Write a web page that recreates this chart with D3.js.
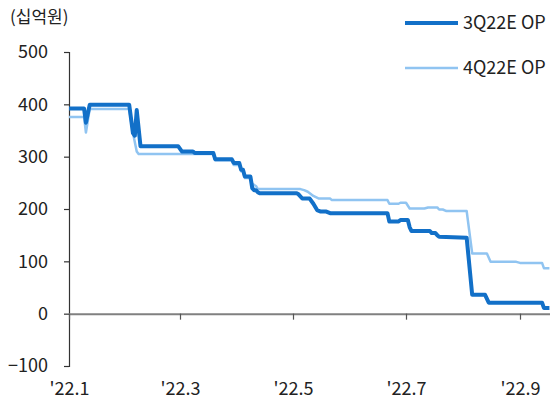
<!DOCTYPE html>
<html>
<head>
<meta charset="utf-8">
<script src="https://cdn.jsdelivr.net/npm/d3@7/dist/d3.min.js"></script>
<style>
  html, body { margin: 0; padding: 0; background: #fff; }
  svg { display: block; }
  text { font-family: "Noto Sans CJK KR", "Noto Sans", sans-serif; fill: #222; }
</style>
</head>
<body>
<svg id="chart" width="550" height="399"></svg>
<script>
// Operating profit consensus (KRW bn) for 3Q22E, daily revisions
const op3Q = [
  ["2022-01-01", 392], ["2022-01-09", 392], ["2022-01-10", 365], ["2022-01-12", 399],
  ["2022-02-02", 399], ["2022-02-04", 345], ["2022-02-05", 340], ["2022-02-06", 389],
  ["2022-02-08", 320], ["2022-02-28", 320], ["2022-03-02", 310], ["2022-03-08", 310],
  ["2022-03-09", 307], ["2022-03-19", 307], ["2022-03-20", 295], ["2022-03-29", 295],
  ["2022-03-30", 288], ["2022-04-02", 288], ["2022-04-03", 275], ["2022-04-04", 275],
  ["2022-04-05", 262], ["2022-04-08", 262], ["2022-04-09", 240], ["2022-04-10", 236],
  ["2022-04-11", 236], ["2022-04-12", 232], ["2022-04-13", 230], ["2022-05-03", 230],
  ["2022-05-04", 228], ["2022-05-06", 220], ["2022-05-10", 220], ["2022-05-12", 210],
  ["2022-05-14", 198], ["2022-05-16", 195], ["2022-05-19", 195], ["2022-05-21", 192],
  ["2022-06-21", 192], ["2022-06-22", 176], ["2022-06-27", 176], ["2022-06-28", 179],
  ["2022-07-02", 179], ["2022-07-03", 165], ["2022-07-04", 158], ["2022-07-14", 158],
  ["2022-07-15", 154], ["2022-07-17", 154], ["2022-07-18", 150], ["2022-07-19", 147],
  ["2022-08-03", 145], ["2022-08-06", 36], ["2022-08-13", 36], ["2022-08-15", 21],
  ["2022-09-13", 21], ["2022-09-14", 11], ["2022-09-17", 11]
];

// Operating profit consensus (KRW bn) for 4Q22E
const op4Q = [
  ["2022-01-01", 376], ["2022-01-09", 376], ["2022-01-10", 346], ["2022-01-12", 391],
  ["2022-02-02", 391], ["2022-02-04", 345], ["2022-02-06", 310], ["2022-02-07", 305],
  ["2022-03-19", 305], ["2022-03-20", 293], ["2022-03-29", 293], ["2022-03-30", 284],
  ["2022-04-02", 284], ["2022-04-03", 272], ["2022-04-04", 272], ["2022-04-05", 259],
  ["2022-04-08", 259], ["2022-04-09", 248], ["2022-04-11", 244], ["2022-04-12", 238],
  ["2022-05-05", 238], ["2022-05-07", 236], ["2022-05-09", 233], ["2022-05-12", 225],
  ["2022-05-15", 220], ["2022-05-21", 220], ["2022-05-22", 217], ["2022-06-21", 217],
  ["2022-06-22", 210], ["2022-06-27", 210], ["2022-06-28", 212], ["2022-07-01", 212],
  ["2022-07-03", 201], ["2022-07-11", 201], ["2022-07-13", 203], ["2022-07-18", 203],
  ["2022-07-19", 199], ["2022-07-21", 199], ["2022-07-23", 196], ["2022-08-03", 196],
  ["2022-08-06", 115], ["2022-08-14", 115], ["2022-08-16", 99], ["2022-08-30", 99],
  ["2022-09-01", 97], ["2022-09-13", 97], ["2022-09-14", 87], ["2022-09-17", 87]
];

const xTickDates = ["2022-01-01", "2022-03-01", "2022-05-01", "2022-07-01", "2022-09-01"];
const xTickLabels = ["'22.1", "'22.3", "'22.5", "'22.7", "'22.9"];
const yTicks = [-100, 0, 100, 200, 300, 400, 500];
const seriesNames = ["3Q22E OP", "4Q22E OP"];
const seriesColors = ["#1270c8", "#90c4f1"];
const seriesWidths = [4, 2.5];

const parse = d3.timeParse("%Y-%m-%d");
const tickDates = xTickDates.map(parse);

const svg = d3.select("#chart");

// Month ticks sit at even spacing, so the time scale is piecewise between them
const x = d3.scaleTime()
  .domain(tickDates)
  .range([69, 180, 293, 406, 520]);

const y = d3.scaleLinear()
  .domain([-100, 500])
  .range([366, 52]);

// Unit label
svg.append("text")
  .attr("x", 10).attr("y", 23)
  .style("font-size", "17px")
  .text("(십억원)");

// Y axis
const yAxis = svg.append("g")
  .attr("transform", "translate(69,0)")
  .call(d3.axisLeft(y).tickValues(yTicks).tickSize(5).tickPadding(16).tickFormat(d3.format("d")));
yAxis.selectAll("path, line").attr("stroke", "#333").attr("stroke-width", 1.2);
yAxis.selectAll("text").style("font-size", "18px").attr("fill", "#222");

// X axis along zero line, labels at the bottom
const xAxis = svg.append("g")
  .attr("transform", `translate(0,${y(0)})`)
  .call(d3.axisBottom(x).tickValues(tickDates).tickSize(6).tickPadding(63)
    .tickFormat((d, i) => xTickLabels[i]));
xAxis.select(".domain")
  .attr("d", `M${x.range()[0]},0.5H550`)
  .attr("stroke", "#808080").attr("stroke-width", 2);
xAxis.selectAll("line").attr("stroke", "#555").attr("stroke-width", 1.2);
xAxis.selectAll("text").style("font-size", "18px").attr("fill", "#222");

const line = d3.line()
  .x(d => x(parse(d[0])))
  .y(d => y(d[1]))
  .curve(d3.curveLinear);

// Draw 4Q first so the 3Q line sits on top
[op4Q, op3Q].forEach((data, k) => {
  const i = 1 - k;
  svg.append("path")
    .datum(data)
    .attr("fill", "none")
    .attr("stroke", seriesColors[i])
    .attr("stroke-width", seriesWidths[i])
    .attr("stroke-linejoin", "round")
    .attr("d", line);
});

// Legend
const legendY = [23, 68];
seriesNames.forEach((name, i) => {
  const g = svg.append("g").attr("transform", `translate(405,${legendY[i]})`);
  g.append("line")
    .attr("x1", 0).attr("x2", 53).attr("y1", 0).attr("y2", 0)
    .attr("stroke", seriesColors[i])
    .attr("stroke-width", seriesWidths[i]);
  g.append("text")
    .attr("x", 58).attr("y", 0).attr("dy", "0.35em")
    .style("font-size", "18px")
    .text(name);
});
</script>
</body>
</html>
